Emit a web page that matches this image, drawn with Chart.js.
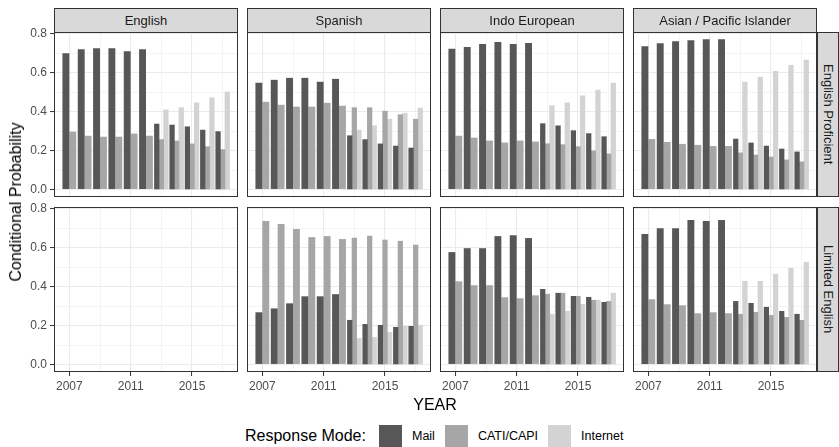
<!DOCTYPE html>
<html>
<head>
<meta charset="utf-8">
<script src="https://cdn.jsdelivr.net/npm/chart.js@4.4.1/dist/chart.umd.min.js"></script>
<style>
  html, body { margin: 0; padding: 0; background: #fff; }
  #fig { position: relative; width: 839px; height: 447px; overflow: hidden;
         font-family: "Liberation Sans", Arial, sans-serif; }
  #fig canvas { position: absolute; }
  .strip { position: absolute; box-sizing: border-box; background: #d9d9d9;
           border: 1px solid #333; color: #1a1a1a; font-size: 13px;
           display: flex; align-items: center; justify-content: center; white-space: nowrap; }
  .strip.row { writing-mode: vertical-rl; }
  .axis-title { position: absolute; color: #000; font-size: 16px; white-space: nowrap;
                transform: translate(-50%, -50%); }
  .axis-title.y { transform: translate(-50%, -50%) rotate(-90deg); }
  #legend { position: absolute; left: 245px; top: 425px; height: 22px;
            display: flex; align-items: center; color: #000; white-space: nowrap; }
  #legend .ttl { font-size: 16px; margin-right: 13px; }
  #legend .key { width: 23px; height: 22px; }
  #legend .lab { font-size: 12.5px; margin: 0 10px 0 10px; }
</style>
</head>
<body>
<div id="fig"></div>
<script>
// ---- data -------------------------------------------------------------
const years = [2007, 2008, 2009, 2010, 2011, 2012, 2013, 2014, 2015, 2016, 2017];
const modes = ['Mail', 'CATI/CAPI', 'Internet'];
const languageGroups = ['English', 'Spanish', 'Indo European', 'Asian / Pacific Islander'];
const proficiencyLevels = ['English Proficient', 'Limited English'];
const yTickValues = [0, 0.1, 0.2, 0.3, 0.4, 0.5, 0.6, 0.7, 0.8];
const yTickLabels = ['0.0', '', '0.2', '', '0.4', '', '0.6', '', '0.8'];
const xTickValues = [2007, 2009, 2011, 2013, 2015, 2017];
const xTickLabels = ['2007', '', '2011', '', '2015', ''];

// English Proficient
const englishProficientMail     = [0.700, 0.720, 0.725, 0.725, 0.710, 0.720, 0.336, 0.331, 0.322, 0.305, 0.297];
const englishProficientCati     = [0.297, 0.276, 0.271, 0.271, 0.287, 0.276, 0.256, 0.249, 0.234, 0.220, 0.205];
const englishProficientInternet = [null, null, null, null, null, null, 0.409, 0.420, 0.445, 0.471, 0.501];

const spanishProficientMail     = [0.548, 0.563, 0.573, 0.573, 0.553, 0.568, 0.276, 0.256, 0.234, 0.223, 0.213];
const spanishProficientCati     = [0.450, 0.435, 0.425, 0.425, 0.445, 0.430, 0.420, 0.420, 0.402, 0.384, 0.361];
const spanishProficientInternet = [null, null, null, null, null, null, 0.305, 0.327, 0.361, 0.392, 0.418];

const indoProficientMail     = [0.722, 0.732, 0.747, 0.757, 0.747, 0.752, 0.338, 0.327, 0.302, 0.287, 0.271];
const indoProficientCati     = [0.276, 0.266, 0.251, 0.241, 0.251, 0.246, 0.235, 0.230, 0.220, 0.198, 0.183];
const indoProficientInternet = [null, null, null, null, null, null, 0.430, 0.445, 0.481, 0.510, 0.546];

const asianProficientMail     = [0.735, 0.751, 0.761, 0.766, 0.771, 0.771, 0.259, 0.239, 0.223, 0.208, 0.193];
const asianProficientCati     = [0.259, 0.244, 0.234, 0.229, 0.223, 0.223, 0.188, 0.177, 0.167, 0.152, 0.142];
const asianProficientInternet = [null, null, null, null, null, null, 0.551, 0.577, 0.607, 0.638, 0.664];

// Limited English (no English-speaking households in this group)
const englishLimitedMail     = [];
const englishLimitedCati     = [];
const englishLimitedInternet = [];

const spanishLimitedMail     = [0.268, 0.288, 0.314, 0.350, 0.350, 0.361, 0.227, 0.206, 0.201, 0.191, 0.196];
const spanishLimitedCati     = [0.736, 0.721, 0.695, 0.654, 0.659, 0.644, 0.649, 0.659, 0.639, 0.633, 0.613];
const spanishLimitedInternet = [null, null, null, null, null, null, 0.134, 0.139, 0.165, 0.196, 0.201];

const indoLimitedMail     = [0.577, 0.597, 0.597, 0.659, 0.664, 0.649, 0.386, 0.366, 0.350, 0.345, 0.319];
const indoLimitedCati     = [0.427, 0.407, 0.407, 0.345, 0.340, 0.355, 0.361, 0.366, 0.350, 0.330, 0.324];
const indoLimitedInternet = [null, null, null, null, null, null, 0.258, 0.273, 0.309, 0.330, 0.366];

const asianLimitedMail     = [0.670, 0.700, 0.700, 0.742, 0.737, 0.742, 0.324, 0.314, 0.294, 0.273, 0.258];
const asianLimitedCati     = [0.335, 0.309, 0.304, 0.263, 0.268, 0.263, 0.258, 0.268, 0.252, 0.242, 0.227];
const asianLimitedInternet = [null, null, null, null, null, null, 0.427, 0.427, 0.464, 0.494, 0.525];

// ---- styling / layout ---------------------------------------------------
const modeColors = ['#575757', '#a6a6a6', '#d3d3d3'];
const PANEL_W = 184, PANEL_H = 165;
const panelLefts = [54, 247, 440, 633];
const panelTops = [32, 207];
const Y_AXIS_W = 54, X_AXIS_H = 24, PAD = 8;
const DODGE_WIDTH = 0.9;

const panelSeries = [
  [
    [englishProficientMail, englishProficientCati, englishProficientInternet],
    [spanishProficientMail, spanishProficientCati, spanishProficientInternet],
    [indoProficientMail, indoProficientCati, indoProficientInternet],
    [asianProficientMail, asianProficientCati, asianProficientInternet]
  ],
  [
    [englishLimitedMail, englishLimitedCati, englishLimitedInternet],
    [spanishLimitedMail, spanishLimitedCati, spanishLimitedInternet],
    [indoLimitedMail, indoLimitedCati, indoLimitedInternet],
    [asianLimitedMail, asianLimitedCati, asianLimitedInternet]
  ]
];

// Side-by-side bars per year: the available modes share the dodge width,
// so years without Internet responses get two wider bars.
function dodgedDatasets(series) {
  const groups = {};
  years.forEach((yr, i) => {
    const present = [];
    series.forEach((s, m) => { if (s[i] != null) present.push(m); });
    const n = present.length;
    const slot = DODGE_WIDTH / n;
    present.forEach((m, k) => {
      const key = m + '_' + n;
      if (!groups[key]) groups[key] = { mode: m, n: n, data: [] };
      groups[key].data.push({ x: yr - DODGE_WIDTH / 2 + slot * (k + 0.5), y: series[m][i] });
    });
  });
  return Object.values(groups).map(g => ({
    label: modes[g.mode],
    data: g.data,
    backgroundColor: modeColors[g.mode],
    borderWidth: 0,
    grouped: false,
    categoryPercentage: 1,
    barPercentage: modes.length / g.n
  }));
}

const panelBorder = {
  id: 'panelBorder',
  afterDraw(chart) {
    const a = chart.chartArea, ctx = chart.ctx;
    ctx.save();
    ctx.strokeStyle = '#333333';
    ctx.lineWidth = 1;
    ctx.strokeRect(a.left + 0.5, a.top + 0.5, a.width - 1, a.height - 1);
    ctx.restore();
  }
};

Chart.defaults.font.family = '"Liberation Sans", Arial, sans-serif';
Chart.defaults.animation = false;

const fig = document.getElementById('fig');

function isMajor(list, v) { return list.some((t, i) => Math.abs(t - v) < 1e-9 && [0, 2, 4, 6, 8].includes(i)); }

for (let r = 0; r < 2; r++) {
  for (let c = 0; c < 4; c++) {
    const showY = c === 0, showX = r === 1;
    const w = PANEL_W + (showY ? Y_AXIS_W : 0);
    const h = PANEL_H + (showX ? X_AXIS_H : 0) + 2 * PAD;
    const cv = document.createElement('canvas');
    cv.width = w; cv.height = h;
    cv.style.left = (panelLefts[c] - (showY ? Y_AXIS_W : 0)) + 'px';
    cv.style.top = (panelTops[r] - PAD) + 'px';
    cv.style.width = w + 'px'; cv.style.height = h + 'px';
    fig.appendChild(cv);

    new Chart(cv, {
      type: 'bar',
      data: { datasets: dodgedDatasets(panelSeries[r][c]) },
      options: {
        responsive: false,
        layout: { padding: { top: PAD, bottom: PAD, left: 0, right: 0 } },
        plugins: { legend: { display: false }, tooltip: { enabled: false }, title: { display: false } },
        scales: {
          x: {
            type: 'linear', min: 2006, max: 2018, offset: false,
            afterBuildTicks: s => { s.ticks = xTickValues.map(v => ({ value: v })); },
            afterFit: s => { s.height = showX ? X_AXIS_H : 0; s.paddingLeft = 0; s.paddingRight = 0; },
            ticks: {
              display: showX, autoSkip: false, maxRotation: 0, padding: 3,
              color: '#4d4d4d', font: { size: 12 },
              callback: (v) => xTickLabels[xTickValues.indexOf(v)] ?? ''
            },
            grid: {
              offset: false, drawTicks: showX, tickLength: 4,
              color: '#ebebeb',
              lineWidth: ctx => (xTickLabels[ctx.index] ? 1.1 : 0.55),
              tickColor: ctx => (xTickLabels[ctx.index] ? '#333333' : 'rgba(0,0,0,0)'),
              tickWidth: 1
            },
            border: { display: false }
          },
          y: {
            min: -0.0385, max: 0.8085,
            afterBuildTicks: s => { s.ticks = yTickValues.map(v => ({ value: v })); },
            afterFit: s => { s.width = showY ? Y_AXIS_W : 0; s.paddingTop = 0; s.paddingBottom = 0; },
            ticks: {
              display: showY, autoSkip: false, padding: 3,
              color: '#4d4d4d', font: { size: 12 },
              callback: (v) => { const i = yTickValues.findIndex(t => Math.abs(t - v) < 1e-9); return i >= 0 ? yTickLabels[i] : ''; }
            },
            grid: {
              drawTicks: showY, tickLength: 4,
              color: '#ebebeb',
              lineWidth: ctx => (yTickLabels[ctx.index] ? 1.1 : 0.55),
              tickColor: ctx => (yTickLabels[ctx.index] ? '#333333' : 'rgba(0,0,0,0)'),
              tickWidth: 1
            },
            border: { display: false }
          }
        }
      },
      plugins: [panelBorder]
    });
  }
}

// facet strips
languageGroups.forEach((g, c) => {
  const d = document.createElement('div');
  d.className = 'strip';
  d.style.left = panelLefts[c] + 'px';
  d.style.top = '8px';
  d.style.width = PANEL_W + 'px';
  d.style.height = '25px';
  d.textContent = g;
  fig.appendChild(d);
});
proficiencyLevels.forEach((p, r) => {
  const d = document.createElement('div');
  d.className = 'strip row';
  d.style.left = (panelLefts[3] + PANEL_W) + 'px';
  d.style.top = panelTops[r] + 'px';
  d.style.width = '22px';
  d.style.height = PANEL_H + 'px';
  d.textContent = p;
  fig.appendChild(d);
});

// axis titles
const yt = document.createElement('div');
yt.className = 'axis-title y';
yt.style.left = '16px'; yt.style.top = '202px';
yt.textContent = 'Conditional Probability';
fig.appendChild(yt);

const xt = document.createElement('div');
xt.className = 'axis-title';
xt.style.left = '435px'; xt.style.top = '405px';
xt.textContent = 'YEAR';
fig.appendChild(xt);

// legend
const lg = document.createElement('div');
lg.id = 'legend';
let html = '<span class="ttl">Response Mode:</span>';
modes.forEach((m, i) => {
  html += '<span class="key" style="background:' + modeColors[i] + '"></span><span class="lab">' + m + '</span>';
});
lg.innerHTML = html;
fig.appendChild(lg);
</script>
</body>
</html>
